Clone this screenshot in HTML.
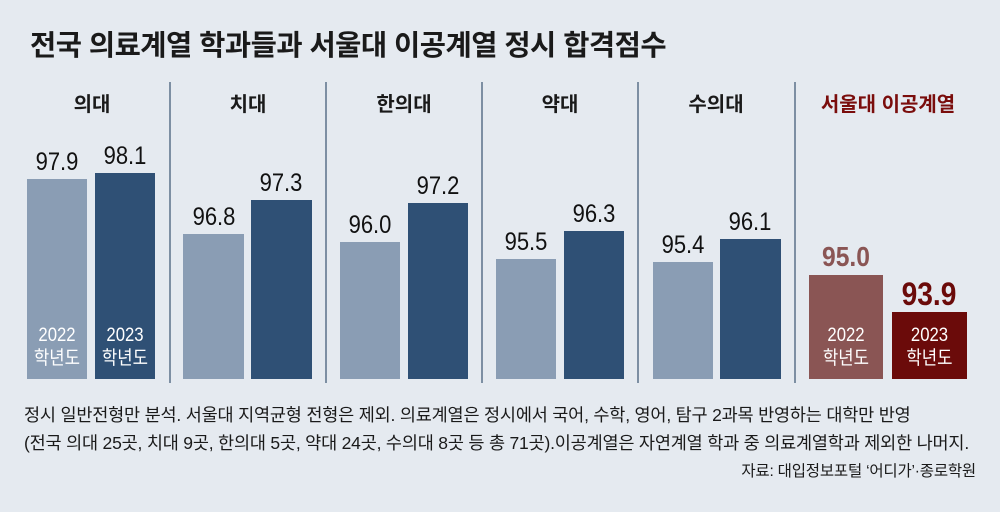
<!DOCTYPE html>
<html><head><meta charset="utf-8"><style>
body{margin:0;width:1000px;height:512px;background:#e5eaf0;overflow:hidden;font-family:"Liberation Sans","Noto Sans CJK KR",sans-serif;position:relative}
.a{position:absolute}
.t{left:30px;top:23px;font-size:28.5px;font-weight:bold;color:#1a1a1a;letter-spacing:-0.5px}
.h{font-size:20px;font-weight:bold;color:#1a1a1a;text-align:center;width:156px;top:88px}
.sep{width:2px;background:#7d8fa3;top:82px;height:301px}
.b{bottom:133px}
.n{font-size:25px;color:#111;text-align:center;transform:scaleX(0.88);width:80px}
.y{color:#fff;font-size:19px;text-align:center;line-height:23px;transform:scaleX(0.88)}
.f{left:24px;font-size:17.5px;color:#1a1a1a;white-space:nowrap;letter-spacing:-0.2px}
</style></head><body>
<div class="a t">전국 의료계열 학과들과 서울대 이공계열 정시 합격점수</div>
<div class="a h" style="left:14px">의대</div>
<div class="a h" style="left:170px">치대</div>
<div class="a h" style="left:326px">한의대</div>
<div class="a h" style="left:482px">약대</div>
<div class="a h" style="left:638px">수의대</div>
<div class="a h" style="left:803px;color:#7a0d0c;width:170px">서울대 이공계열</div>
<div class="a sep" style="left:169px"></div>
<div class="a sep" style="left:325px"></div>
<div class="a sep" style="left:481px"></div>
<div class="a sep" style="left:637px"></div>
<div class="a sep" style="left:794px"></div>

<div class="a b" style="left:27px;width:60px;top:179px;background:#8a9db4"></div>
<div class="a b" style="left:95px;width:60px;top:173px;background:#2f5075"></div>
<div class="a b" style="left:183px;width:61px;top:234px;background:#8a9db4"></div>
<div class="a b" style="left:251px;width:61px;top:200px;background:#2f5075"></div>
<div class="a b" style="left:340px;width:60px;top:242px;background:#8a9db4"></div>
<div class="a b" style="left:408px;width:60px;top:203px;background:#2f5075"></div>
<div class="a b" style="left:496px;width:60px;top:259px;background:#8a9db4"></div>
<div class="a b" style="left:564px;width:60px;top:231px;background:#2f5075"></div>
<div class="a b" style="left:653px;width:60px;top:262px;background:#8a9db4"></div>
<div class="a b" style="left:720px;width:61px;top:239px;background:#2f5075"></div>
<div class="a b" style="left:809px;width:74px;top:275px;background:#8a5554"></div>
<div class="a b" style="left:892px;width:75px;top:312px;background:#6b0b0a"></div>

<div class="a n" style="left:17px;top:148px">97.9</div>
<div class="a n" style="left:85px;top:142px">98.1</div>
<div class="a n" style="left:174px;top:203px">96.8</div>
<div class="a n" style="left:241px;top:169px">97.3</div>
<div class="a n" style="left:330px;top:211px">96.0</div>
<div class="a n" style="left:398px;top:172px">97.2</div>
<div class="a n" style="left:486px;top:228px">95.5</div>
<div class="a n" style="left:554px;top:200px">96.3</div>
<div class="a n" style="left:643px;top:231px">95.4</div>
<div class="a n" style="left:710px;top:208px">96.1</div>
<div class="a n" style="left:806px;top:241px;font-weight:bold;color:#8a5554;font-size:28px">95.0</div>
<div class="a n" style="left:889px;top:276px;font-weight:bold;color:#6b0b0a;font-size:32px">93.9</div>

<div class="a y" style="left:27px;width:60px;top:324px">2022<br>학년도</div>
<div class="a y" style="left:95px;width:60px;top:324px">2023<br>학년도</div>
<div class="a y" style="left:809px;width:74px;top:324px">2022<br>학년도</div>
<div class="a y" style="left:892px;width:75px;top:324px">2023<br>학년도</div>

<div class="a f" style="top:402px">정시 일반전형만 분석. 서울대 지역균형 전형은 제외. 의료계열은 정시에서 국어, 수학, 영어, 탐구 2과목 반영하는 대학만 반영</div>
<div class="a f" style="top:430px">(전국 의대 25곳, 치대 9곳, 한의대 5곳, 약대 24곳, 수의대 8곳 등 총 71곳).이공계열은 자연계열 학과 중 의료계열학과 제외한 나머지.</div>
<div class="a f" style="top:459px;left:auto;right:24px;font-size:15.5px">자료: 대입정보포털 ‘어디가’·종로학원</div>
</body></html>
